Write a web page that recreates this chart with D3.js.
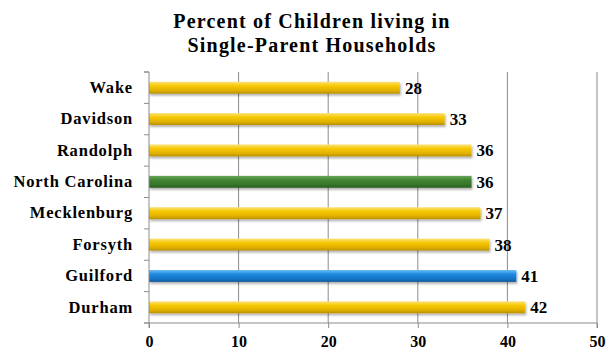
<!DOCTYPE html>
<html>
<head>
<meta charset="utf-8">
<script src="https://cdn.jsdelivr.net/npm/d3@7"></script>
<style>
  body { margin: 0; background: #fff; }
  text { font-family: "Liberation Serif", "Times New Roman", serif; font-weight: bold; fill: #000; }
</style>
</head>
<body>
<script>
const width = 614;
const height = 352;

// Data
const categories = ["Wake", "Davidson", "Randolph", "North Carolina", "Mecklenburg", "Forsyth", "Guilford", "Durham"];
const values = [28, 33, 36, 36, 37, 38, 41, 42];
const colorKeys = ["gold", "gold", "gold", "green", "gold", "gold", "blue", "gold"];
const xTicks = [0, 10, 20, 30, 40, 50];
const titleLines = ["Percent of  Children living in", "Single-Parent Households"];

const margin = {top: 72, right: 17, bottom: 29, left: 149};

const svg = d3.select("body").append("svg")
  .attr("width", width)
  .attr("height", height);

// gradients for the glossy bars
const defs = svg.append("defs");
const palette = {
  gold:  ["#fbe27a", "#f7c800", "#e0b000", "#b88f00"],
  green: ["#6aa75a", "#3f8531", "#35742a", "#2a5c20"],
  blue:  ["#6cbef2", "#1d8ae0", "#1574c4", "#0f5a9c"]
};
Object.entries(palette).forEach(([k, c]) => {
  const g = defs.append("linearGradient").attr("id", "grad-" + k)
    .attr("x1", 0).attr("y1", 0).attr("x2", 0).attr("y2", 1);
  g.append("stop").attr("offset", "0%").attr("stop-color", c[0]);
  g.append("stop").attr("offset", "35%").attr("stop-color", c[1]);
  g.append("stop").attr("offset", "75%").attr("stop-color", c[2]);
  g.append("stop").attr("offset", "100%").attr("stop-color", c[3]);
});
const shadow = defs.append("filter").attr("id", "shadow")
  .attr("x", "-5%").attr("y", "-30%").attr("width", "110%").attr("height", "180%");
shadow.append("feDropShadow")
  .attr("dx", 1).attr("dy", 2).attr("stdDeviation", 1)
  .attr("flood-color", "#000").attr("flood-opacity", 0.3);

const x = d3.scaleLinear().domain([0, 50]).range([margin.left, width - margin.right]);
const y = d3.scaleBand().domain(categories)
  .range([margin.top, height - margin.bottom])
  .paddingInner(0.62).paddingOuter(0.31);

// Title
svg.append("g").selectAll("text")
  .data(titleLines)
  .enter()
  .append("text")
  .attr("x", 312)
  .attr("y", (d, i) => 28 + i * 24)
  .attr("text-anchor", "middle")
  .style("font-size", "20px")
  .style("letter-spacing", "1.2px")
  .text(d => d);

// Gridlines
svg.append("g").selectAll("line")
  .data(xTicks.slice(1))
  .enter()
  .append("line")
  .attr("x1", d => x(d)).attr("x2", d => x(d))
  .attr("y1", margin.top).attr("y2", height - margin.bottom)
  .attr("stroke", "#8c8c8c").attr("stroke-width", 1);

// Bars
svg.append("g").selectAll("rect")
  .data(categories)
  .enter()
  .append("rect")
  .attr("x", x(0))
  .attr("y", d => y(d))
  .attr("width", (d, i) => x(values[i]) - x(0))
  .attr("height", y.bandwidth())
  .attr("fill", (d, i) => "url(#grad-" + colorKeys[i] + ")")
  .attr("filter", "url(#shadow)");

// Value labels
svg.append("g").selectAll("text")
  .data(categories)
  .enter()
  .append("text")
  .attr("x", (d, i) => x(values[i]) + 5)
  .attr("y", d => y(d) + y.bandwidth() / 2 + 6)
  .style("font-size", "17px")
  .text((d, i) => values[i]);

// Axes
const xAxis = svg.append("g")
  .attr("transform", `translate(0,${height - margin.bottom})`)
  .call(d3.axisBottom(x).tickValues(xTicks).tickSize(5).tickPadding(8));
xAxis.selectAll("text").style("font-size", "16px");

const yAxis = svg.append("g")
  .attr("transform", `translate(${margin.left},0)`)
  .call(d3.axisLeft(y).tickSize(0).tickPadding(16));
yAxis.selectAll("text").style("font-size", "16.5px").style("letter-spacing", "0.8px");

// category separator ticks on y axis
const bounds = d3.range(categories.length + 1).map(i => margin.top + i * y.step());
yAxis.selectAll(".sep")
  .data(bounds)
  .enter()
  .append("line")
  .attr("class", "sep")
  .attr("x1", -5).attr("x2", 0)
  .attr("y1", d => d).attr("y2", d => d);

svg.selectAll(".domain, .tick line, .sep").attr("stroke", "#8c8c8c");
xAxis.select(".domain").attr("d", `M${x(0)},5V0H${x(50)}V5`);
yAxis.select(".domain").attr("d", `M-5,${margin.top}H0V${height - margin.bottom}H-5`);
</script>
</body>
</html>
